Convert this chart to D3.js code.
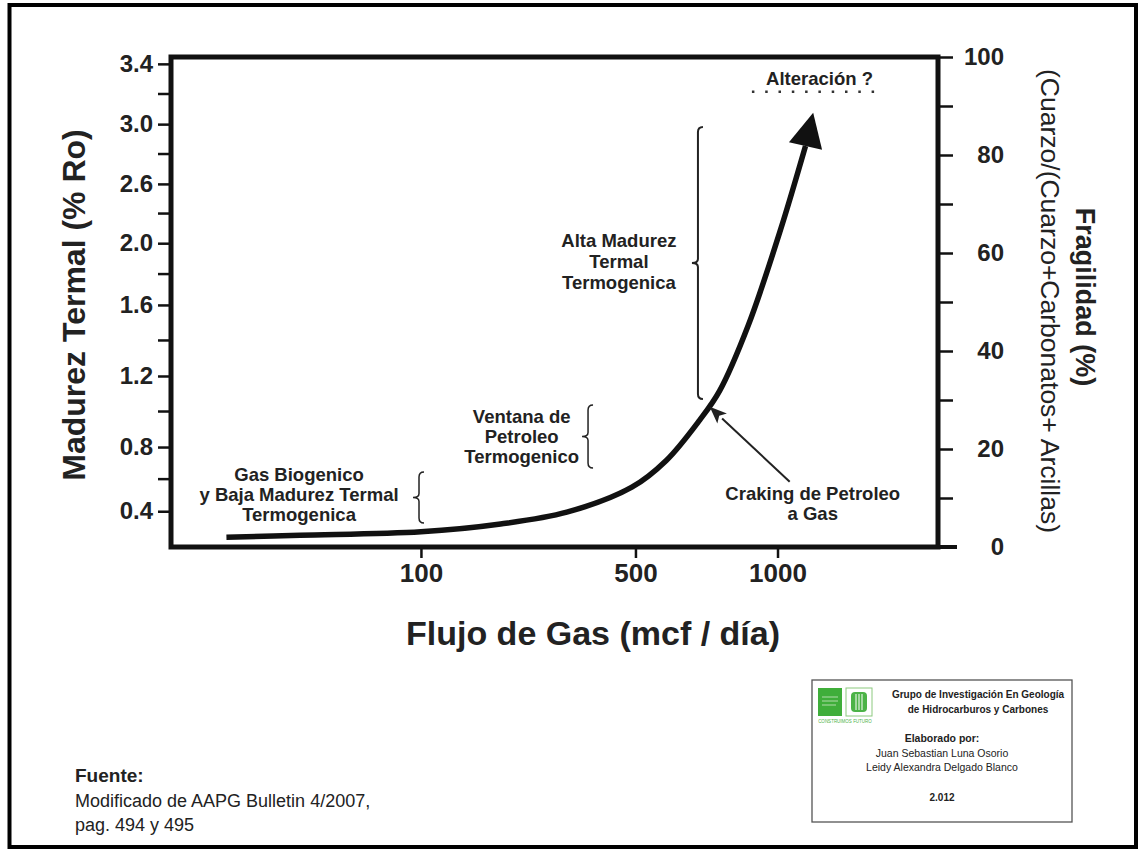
<!DOCTYPE html>
<html>
<head>
<meta charset="utf-8">
<script src="https://cdn.jsdelivr.net/npm/d3@7"></script>
<style>
body { margin: 0; background: #fff; }
text { font-family: 'Liberation Sans', Arial, sans-serif; fill: #222; }
</style>
</head>
<body>
<script>
// valores
var flujoTicks = [100, 500, 1000]
var madurezLabels = [0.4, 0.8, 1.2, 1.6, 2.0, 2.6, 3.0, 3.4]
// posicion de cada valor de madurez sobre la escala de fragilidad (eje secundario)
var madurezEnFragilidad = [7.3, 20.4, 34.9, 49.4, 62.0, 74.1, 86.3, 98.6]
var fragilidadTicks = [0, 10, 20, 30, 40, 50, 60, 70, 80, 90, 100]
var fragilidadLabels = [0, 20, 40, 60, 80, 100]

// curva flujo de gas (mcf/dia) vs fragilidad (%)
var curvaFlujo = [2, 18, 100, 205, 330, 490, 590, 700, 770, 880, 1010, 1120, 1160]
var curvaFragilidad = [2.0, 2.4, 3.1, 4.7, 7.1, 12.2, 17.6, 25.9, 31.8, 45.3, 64.3, 81.0, 88.6]

var width = 1139
var height = 849
var plot = {left: 171, top: 57, right: 938, bottom: 547}

var svg = d3.select('body')
	.append('svg')
		.attr('width', width)
		.attr('height', height)

// marco exterior
svg.append('rect')
	.attr('x', 9.5)
	.attr('y', 5)
	.attr('width', 1126.5)
	.attr('height', 842)
	.attr('fill', 'none')
	.attr('stroke', '#000')
	.attr('stroke-width', 4)

// escalas
var x = d3.scalePow()
	.exponent(0.385)
	.domain([0, 1840])
	.range([plot.left, plot.right])

var yR = d3.scaleLinear()
	.domain([0, 100])
	.range([plot.bottom, plot.top])

var yL = d3.scaleLinear()
	.domain(madurezLabels)
	.range(madurezEnFragilidad.map(yR))

function styleAxis(g, size) {
	g.attr('font-family', null).attr('font-size', null)
	g.select('.domain').remove()
	g.selectAll('.tick line').attr('stroke', '#111').attr('stroke-width', 2.5)
	g.selectAll('.tick text')
		.style('font-size', size + 'px')
		.style('font-weight', 'bold')
		.attr('fill', '#222')
}

// eje izquierdo (madurez termal)
var leftAxis = svg.append('g')
	.attr('transform', 'translate(' + plot.left + ',0)')
	.call(d3.axisLeft(yL)
		.tickValues(madurezLabels)
		.tickFormat(d3.format('.1f'))
		.tickSize(13)
		.tickPadding(5))
styleAxis(leftAxis, 24)

// ticks menores del eje izquierdo
var minorL = d3.pairs(madurezLabels).map(function(p) { return (yL(p[0]) + yL(p[1])) / 2 })
svg.append('g').selectAll('line')
		.data(minorL)
	.enter().append('line')
		.attr('x1', plot.left - 13)
		.attr('x2', plot.left)
		.attr('y1', function(d) { return d })
		.attr('y2', function(d) { return d })
		.attr('stroke', '#111')
		.attr('stroke-width', 2.5)

// eje derecho (fragilidad)
var rightAxis = svg.append('g')
	.attr('transform', 'translate(' + plot.right + ',0)')
	.call(d3.axisRight(yR)
		.tickValues(fragilidadTicks)
		.tickSize(15)
		.tickFormat(function(d) { return fragilidadLabels.indexOf(d) >= 0 ? d : '' }))
styleAxis(rightAxis, 24)
rightAxis.selectAll('.tick text')
	.attr('x', 66)
	.attr('text-anchor', 'end')

// eje inferior (flujo de gas)
var bottomAxis = svg.append('g')
	.attr('transform', 'translate(0,' + plot.bottom + ')')
	.call(d3.axisBottom(x)
		.tickValues(flujoTicks)
		.tickFormat(d3.format('d'))
		.tickSize(11)
		.tickPadding(6))
styleAxis(bottomAxis, 26)

// marco del grafico
svg.append('path')
	.attr('d', 'M' + plot.left + ',' + plot.top + 'H' + plot.right + 'V' + plot.bottom + 'H' + plot.left + 'Z')
	.attr('fill', 'none')
	.attr('stroke', '#111')
	.attr('stroke-width', 5)
svg.append('line')
	.attr('x1', plot.right)
	.attr('x2', plot.right + 19)
	.attr('y1', plot.bottom)
	.attr('y2', plot.bottom)
	.attr('stroke', '#111')
	.attr('stroke-width', 4)

// titulos de ejes
svg.append('text')
	.attr('transform', 'translate(85,305) rotate(-90)')
	.attr('text-anchor', 'middle')
	.style('font-size', '32px')
	.style('font-weight', 'bold')
	.text('Madurez Termal (% Ro)')

svg.append('text')
	.attr('transform', 'translate(1076,297) rotate(90)')
	.attr('text-anchor', 'middle')
	.style('font-size', '27px')
	.style('font-weight', 'bold')
	.text('Fragilidad (%)')

svg.append('text')
	.attr('transform', 'translate(1041,301) rotate(90)')
	.attr('text-anchor', 'middle')
	.style('font-size', '26.5px')
	.text('(Cuarzo/(Cuarzo+Carbonatos+ Arcillas)')

svg.append('text')
	.attr('x', 593)
	.attr('y', 645)
	.attr('text-anchor', 'middle')
	.style('font-size', '34px')
	.style('font-weight', 'bold')
	.text('Flujo de Gas (mcf / día)')

// curva principal
var pts = curvaFlujo.map(function(f, i) { return [x(f), yR(curvaFragilidad[i])] })
var tip = pts[pts.length - 1]
var base = pts[pts.length - 2]
var dx = tip[0] - base[0], dy = tip[1] - base[1]
var len = Math.sqrt(dx * dx + dy * dy)
var ux = dx / len, uy = dy / len
var headLen = 34, headW = 17
var hb = [tip[0] - ux * headLen, tip[1] - uy * headLen]

var line = d3.line().curve(d3.curveCatmullRom)
svg.append('path')
	.attr('d', line(pts.slice(0, pts.length - 2).concat([hb])))
	.attr('fill', 'none')
	.attr('stroke', '#111')
	.attr('stroke-width', 5.5)

svg.append('path')
	.attr('d', 'M' + tip[0] + ',' + tip[1] +
		'L' + (hb[0] - uy * headW) + ',' + (hb[1] + ux * headW) +
		'L' + (hb[0] + uy * headW) + ',' + (hb[1] - ux * headW) + 'Z')
	.attr('fill', '#111')

// llaves de anotacion
function brace(xv, f1, f2, w) {
	var bx = x(xv), y1 = yR(f1), y2 = yR(f2), ym = (y1 + y2) / 2
	svg.append('path')
		.attr('d', 'M' + (bx + 5) + ',' + y1 + 'Q' + bx + ',' + y1 + ' ' + bx + ',' + (y1 + 5) +
			'L' + bx + ',' + (ym - 4) + 'Q' + bx + ',' + ym + ' ' + (bx - 6) + ',' + ym +
			'Q' + bx + ',' + ym + ' ' + bx + ',' + (ym + 4) +
			'L' + bx + ',' + (y2 - 5) + 'Q' + bx + ',' + y2 + ' ' + (bx + 5) + ',' + y2)
		.attr('fill', 'none')
		.attr('stroke', '#222')
		.attr('stroke-width', w)
}

function label(lines, xv, fv, gap) {
	var t = svg.append('text')
		.attr('text-anchor', 'middle')
		.style('font-size', '18.5px')
		.style('font-weight', 'bold')
	lines.forEach(function(s, i) {
		t.append('tspan')
			.attr('x', x(xv))
			.attr('y', yR(fv) + (i - (lines.length - 1) / 2) * gap)
			.text(s)
	})
}

brace(694, 85.7, 30.2, 2)
label(['Alta Madurez', 'Termal', 'Termogenica'], 455, 56.9, 21)

brace(378, 29.0, 16.1, 1.5)
label(['Ventana de', 'Petroleo', 'Termogenico'], 241, 21.2, 20)

brace(98, 15.3, 4.9, 1.5)
label(['Gas Biogenico', 'y Baja Madurez Termal', 'Termogenica'], 17.6, 9.4, 20)

label(['Craking de Petroleo', 'a Gas'], 1158, 7.6, 20)

// flecha del craking
var a0 = [x(1053), yR(13.3)], a1 = [x(735), yR(28.6)]
var cdx = a1[0] - a0[0], cdy = a1[1] - a0[1]
var cl = Math.sqrt(cdx * cdx + cdy * cdy)
var cux = cdx / cl, cuy = cdy / cl
var cb = [a1[0] - cux * 17, a1[1] - cuy * 17]
svg.append('line')
	.attr('x1', a0[0]).attr('y1', a0[1])
	.attr('x2', cb[0]).attr('y2', cb[1])
	.attr('stroke', '#222')
	.attr('stroke-width', 2)
svg.append('path')
	.attr('d', 'M' + a1[0] + ',' + a1[1] +
		'L' + (cb[0] - cuy * 7) + ',' + (cb[1] + cux * 7) +
		'L' + (cb[0] + cux * 4) + ',' + (cb[1] + cuy * 4) +
		'L' + (cb[0] + cuy * 7) + ',' + (cb[1] - cux * 7) + 'Z')
	.attr('fill', '#222')

// alteracion
label(['Alteración ?'], 1190, 94.3, 0)
svg.append('line')
	.attr('x1', x(894)).attr('x2', x(1526))
	.attr('y1', yR(92.9)).attr('y2', yR(92.9))
	.attr('stroke', '#333')
	.attr('stroke-width', 2.5)
	.attr('stroke-dasharray', '2.5 10.8')

// fuente
var fuente = svg.append('text').attr('x', 75).style('font-size', '18px')
fuente.append('tspan').attr('x', 75).attr('y', 782).style('font-weight', 'bold').style('font-size', '19px').text('Fuente:')
fuente.append('tspan').attr('x', 75).attr('y', 807).text('Modificado de AAPG Bulletin 4/2007,')
fuente.append('tspan').attr('x', 75).attr('y', 831).text('pag. 494 y 495')

// recuadro de creditos
svg.append('rect')
	.attr('x', 812).attr('y', 680)
	.attr('width', 260).attr('height', 142)
	.attr('fill', 'none')
	.attr('stroke', '#555')
	.attr('stroke-width', 1.3)

// logo
svg.append('rect')
	.attr('x', 818).attr('y', 688).attr('width', 24).attr('height', 28)
	.attr('fill', '#3fae3a')
svg.append('path')
	.attr('d', 'M822,697H838M822,701H838M822,705H836')
	.attr('stroke', '#cfe9c8').attr('stroke-width', 0.8)
svg.append('rect')
	.attr('x', 846).attr('y', 688).attr('width', 26).attr('height', 28)
	.attr('fill', '#fff').attr('stroke', '#8cc97f').attr('stroke-width', 1)
svg.append('rect')
	.attr('x', 851).attr('y', 692).attr('width', 16).attr('height', 20).attr('rx', 4)
	.attr('fill', '#4cb347')
svg.append('path')
	.attr('d', 'M856,694V710M859,694V710M862,694V710')
	.attr('stroke', '#fff').attr('stroke-width', 1)
svg.append('text')
	.attr('x', 845).attr('y', 723)
	.attr('text-anchor', 'middle')
	.style('font-size', '4.5px')
	.style('fill', '#4cb347')
	.text('CONSTRUIMOS FUTURO')

var creditos = [
	{t: 'Grupo de Investigación En Geología', cx: 978, y: 698, b: true, s: 10},
	{t: 'de Hidrocarburos y Carbones', cx: 978, y: 713, b: true, s: 10},
	{t: 'Elaborado por:', cx: 942, y: 742, b: true, s: 10.5},
	{t: 'Juan Sebastian Luna Osorio', cx: 942, y: 757, b: false, s: 10.5},
	{t: 'Leidy Alexandra Delgado Blanco', cx: 942, y: 771, b: false, s: 10.5},
	{t: '2.012', cx: 942, y: 801, b: true, s: 10}
]
svg.append('g').selectAll('text')
		.data(creditos)
	.enter().append('text')
		.attr('x', function(d) { return d.cx })
		.attr('y', function(d) { return d.y })
		.attr('text-anchor', 'middle')
		.style('font-size', function(d) { return d.s + 'px' })
		.style('font-weight', function(d) { return d.b ? 'bold' : 'normal' })
		.text(function(d) { return d.t })
</script>
</body>
</html>
